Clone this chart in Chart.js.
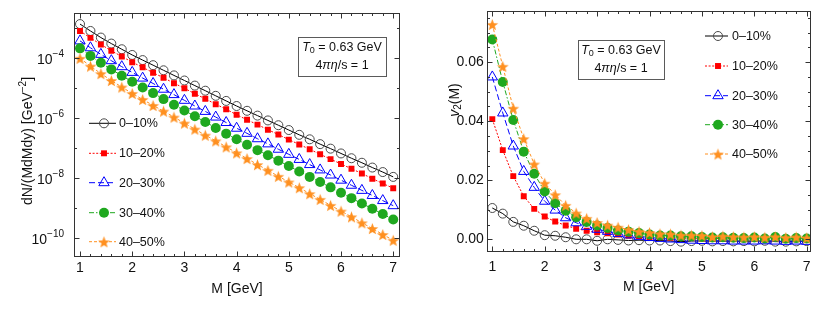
<!DOCTYPE html>
<html><head><meta charset="utf-8">
<script src="https://cdn.jsdelivr.net/npm/chart.js@4.4.0/dist/chart.umd.min.js"></script>
<style>
html,body{margin:0;padding:0;background:#fff;}
#wrap{position:relative;width:830px;height:310px;overflow:hidden;}
.pane{position:absolute;top:0;width:415px;height:310px;}
</style></head><body>
<div id="wrap">
<div class="pane" style="left:0"><canvas id="c1" width="415" height="310"></canvas></div>
<div class="pane" style="left:415px"><canvas id="c2" width="415" height="310"></canvas></div>
</div>
<script>
// ---------------- data ----------------
const massGeV = [1.0,1.2,1.4,1.6,1.8,2.0,2.2,2.4,2.6,2.8,3.0,3.2,3.4,3.6,3.8,4.0,4.2,4.4,4.6,4.8,5.0,5.2,5.4,5.6,5.8,6.0,6.2,6.4,6.6,6.8,7.0];
const centralityLabels = ['0\u201310%','10\u201320%','20\u201330%','30\u201340%','40\u201350%'];

// dN/(M dM dy) [GeV^-2]
const yield0010 = [1.38e-3,8.13e-4,4.90e-4,3.09e-4,2.00e-4,1.29e-4,8.71e-5,5.89e-5,3.98e-5,2.69e-5,1.82e-5,1.23e-5,8.32e-6,5.62e-6,3.80e-6,2.57e-6,1.78e-6,1.23e-6,8.51e-7,5.89e-7,4.07e-7,2.82e-7,2.00e-7,1.38e-7,9.77e-8,6.76e-8,4.68e-8,3.31e-8,2.29e-8,1.62e-8,1.12e-8];
const yield1020 = [8.13e-4,4.79e-4,2.88e-4,1.78e-4,1.15e-4,7.41e-5,5.01e-5,3.31e-5,2.24e-5,1.48e-5,1.00e-5,6.61e-6,4.47e-6,2.95e-6,2.00e-6,1.32e-6,8.91e-7,6.17e-7,4.17e-7,2.88e-7,1.95e-7,1.35e-7,9.33e-8,6.31e-8,4.37e-8,3.02e-8,2.09e-8,1.45e-8,9.77e-9,6.76e-9,4.68e-9];
const yield2030 = [3.80e-4,2.24e-4,1.35e-4,8.32e-5,5.25e-5,3.39e-5,2.19e-5,1.45e-5,9.33e-6,6.17e-6,3.98e-6,2.57e-6,1.70e-6,1.10e-6,7.24e-7,4.68e-7,3.16e-7,2.09e-7,1.41e-7,9.33e-8,6.31e-8,4.27e-8,2.88e-8,1.91e-8,1.29e-8,8.71e-9,5.89e-9,3.98e-9,2.69e-9,1.82e-9,1.23e-9];
const yield3040 = [2.14e-4,1.20e-4,7.08e-5,4.27e-5,2.63e-5,1.66e-5,1.07e-5,6.92e-6,4.37e-6,2.82e-6,1.82e-6,1.17e-6,7.59e-7,4.79e-7,3.09e-7,2.00e-7,1.32e-7,8.71e-8,5.89e-8,3.89e-8,2.57e-8,1.70e-8,1.12e-8,7.59e-9,5.01e-9,3.31e-9,2.19e-9,1.45e-9,9.77e-10,6.46e-10,4.27e-10];
const yield4050 = [1.00e-4,5.50e-5,3.09e-5,1.82e-5,1.10e-5,6.76e-6,4.27e-6,2.69e-6,1.74e-6,1.10e-6,6.92e-7,4.37e-7,2.75e-7,1.78e-7,1.12e-7,7.08e-8,4.57e-8,2.88e-8,1.86e-8,1.17e-8,7.59e-9,4.90e-9,3.09e-9,2.00e-9,1.26e-9,8.13e-10,5.25e-10,3.31e-10,2.14e-10,1.35e-10,8.71e-11];

// v2(M)
const v2_0010 = [0.0106,0.0087,0.0059,0.0046,0.0029,0.0014,0.0012,0.0007,0.0000,0.0000,-0.0005,0.0000,-0.0002,-0.0004,-0.0003,-0.0004,-0.0004,-0.0006,-0.0008,-0.0006,-0.0005,-0.0007,-0.0006,-0.0007,-0.0006,-0.0007,-0.0005,-0.0008,-0.0008,-0.0007,-0.0006];
const v2_1020 = [0.0407,0.0302,0.0214,0.0146,0.0103,0.0077,0.0060,0.0047,0.0036,0.0029,0.0024,0.0020,0.0016,0.0012,0.0010,0.0008,0.0007,0.0005,0.0004,0.0004,0.0003,0.0002,0.0003,0.0002,0.0001,0.0003,0.0001,0.0004,0.0000,0.0002,0.0001];
const v2_2030 = [0.0550,0.0428,0.0316,0.0230,0.0176,0.0129,0.0099,0.0073,0.0056,0.0044,0.0034,0.0027,0.0020,0.0015,0.0010,0.0006,0.0003,0.0001,-0.0001,-0.0003,-0.0004,-0.0005,-0.0005,-0.0006,-0.0006,-0.0006,-0.0005,-0.0006,-0.0007,-0.0006,-0.0007];
const v2_3040 = [0.0677,0.0533,0.0404,0.0297,0.0222,0.0162,0.0122,0.0097,0.0075,0.0059,0.0047,0.0038,0.0030,0.0026,0.0021,0.0016,0.0013,0.0013,0.0010,0.0010,0.0008,0.0006,0.0007,0.0005,0.0004,0.0006,0.0003,0.0008,0.0002,0.0004,0.0003];
const v2_4050 = [0.0728,0.0586,0.0444,0.0341,0.0255,0.0190,0.0151,0.0115,0.0089,0.0071,0.0057,0.0048,0.0041,0.0033,0.0027,0.0023,0.0019,0.0018,0.0014,0.0014,0.0013,0.0009,0.0011,0.0009,0.0008,0.0009,0.0007,0.0009,0.0006,0.0008,0.0005];

const xTickValues = [1,2,3,4,5,6,7];
const yieldTickExponents = [-4,-6,-8,-10];
const v2TickValues = [0,0.02,0.04,0.06];

// ---------------- styles ----------------
const FONT = '"Liberation Sans", Arial, Helvetica, sans-serif';
function starImage(color, size){
  const c=document.createElement('canvas'); c.width=c.height=size;
  const g=c.getContext('2d'); const R=size/2-0.3, r=R*0.42;
  g.beginPath();
  for(let k=0;k<10;k++){const a=-Math.PI/2+k*Math.PI/5; const rr=k%2?r:R; g.lineTo(size/2+rr*Math.cos(a), size/2+0.8+rr*Math.sin(a));}
  g.closePath(); g.fillStyle=color; g.fill(); return c;
}
const ORANGE='#ff9020';
const styles = [
  {line:'#000000', dash:[], ps:'circle', r:4.5, bg:'rgba(255,255,255,0)', bc:'#4a4a4a', bw:1, order:5},
  {line:'#ff0000', dash:[2,1.6], ps:'rect', r:4.2, bg:'#ff0000', bc:'#ff0000', bw:0, order:4},
  {line:'#0000ff', dash:[6,3], ps:'triangle', r:6, bg:'rgba(255,255,255,0)', bc:'#0000ff', bw:1, order:3},
  {line:'#1fa81f', dash:[5,2,1.5,2], ps:'circle', r:5, bg:'#1fa81f', bc:'#1fa81f', bw:0, order:2},
  {line:ORANGE, dash:[3,2], ps:starImage(ORANGE,13), r:6, bg:ORANGE, bc:ORANGE, bw:0, order:1}
];

function makeDatasets(series){
  return series.map((arr,i)=>({
    label: centralityLabels[i],
    data: massGeV.map((m,j)=>({x:m,y:arr[j]})),
    borderColor: styles[i].line, borderWidth:1, borderDash: styles[i].dash,
    pointStyle: styles[i].ps, pointRadius: styles[i].r, pointBackgroundColor: styles[i].bg,
    pointBorderColor: styles[i].bc, pointBorderWidth: styles[i].bw,
    tension:0, fill:false, order: styles[i].order
  }));
}

function rangeTicks(a,b,step){const out=[];for(let v=a;v<=b+1e-9;v+=step)out.push(+v.toFixed(6));return out;}

// frame, inward ticks, legend, info box, y title
const decorPlugin = {
  id:'decor',
  afterDatasetsDraw(chart, args, o){
    const {ctx, chartArea:a, scales:{x,y}} = chart;
    ctx.save();
    const L=Math.round(a.left)+0.5, R=Math.round(a.right)-0.5, T=Math.round(a.top)+0.5, B=Math.round(a.bottom)-0.5;
    ctx.strokeStyle='#333'; ctx.lineWidth=1; ctx.setLineDash([]);
    ctx.strokeRect(L,T,R-L,B-T);
    const seg=(x1,y1,x2,y2)=>{ctx.beginPath();ctx.moveTo(x1,y1);ctx.lineTo(x2,y2);ctx.stroke();};
    const xt=(v,len)=>{const p=Math.round(x.getPixelForValue(v))+0.5; seg(p,B,p,B-len); seg(p,T,p,T+len);};
    const yt=(v,len)=>{const p=Math.round(y.getPixelForValue(v))+0.5; if(p<T||p>B)return; seg(L,p,L+len,p); seg(R,p,R-len,p);};
    o.xMinor.forEach(v=>xt(v,2.5)); o.xMajor.forEach(v=>xt(v,5));
    o.yMinor.forEach(v=>yt(v,2.5)); o.yMajor.forEach(v=>yt(v,5));
    // legend
    const ds = chart.data.datasets;
    ds.forEach((d,i)=>{
      const yy=o.legend.y[i];
      ctx.save();
      ctx.strokeStyle=d.borderColor; ctx.lineWidth=1; ctx.setLineDash(d.borderDash);
      seg(o.legend.x0, yy, o.legend.x1, yy);
      ctx.setLineDash([]);
      ctx.fillStyle=d.pointBackgroundColor; ctx.strokeStyle=d.pointBorderColor; ctx.lineWidth=d.pointBorderWidth||0;
      Chart.helpers.drawPoint(ctx,{pointStyle:d.pointStyle,radius:d.pointRadius,borderWidth:d.pointBorderWidth,rotation:0},o.legend.xm,yy);
      ctx.restore();
      ctx.fillStyle='#111'; ctx.font='12.5px '+FONT; ctx.textBaseline='middle'; ctx.textAlign='left';
      ctx.fillText(d.label, o.legend.xt, yy+0.5);
    });
    // info box
    const b=o.box;
    ctx.fillStyle='#fff'; ctx.fillRect(b.x,b.y,b.w,b.h);
    ctx.strokeStyle='#5a5a5a'; ctx.lineWidth=1; ctx.strokeRect(b.x+0.5,b.y+0.5,b.w,b.h);
    const cx=b.x+b.w/2;
    const runs1=[['T','italic 12.5px '+FONT,0],['0','9px '+FONT,3],[' = 0.63 GeV','12.5px '+FONT,0]];
    const runs2=[['4','12.5px '+FONT,0],['\u03c0\u03b7','italic 12.5px '+FONT,0],['/s = 1','12.5px '+FONT,0]];
    const drawRuns=(runs,yc)=>{
      let w=0; runs.forEach(r=>{ctx.font=r[1]; w+=ctx.measureText(r[0]).width;});
      let xx=cx-w/2; ctx.textAlign='left'; ctx.textBaseline='middle'; ctx.fillStyle='#111';
      runs.forEach(r=>{ctx.font=r[1]; ctx.fillText(r[0],xx,yc+r[2]); xx+=ctx.measureText(r[0]).width;});
    };
    drawRuns(runs1,b.y+b.h*0.28); drawRuns(runs2,b.y+b.h*0.73);
    ctx.restore();
  },
  afterDraw(chart, args, o){
    const {ctx, scales:{y}} = chart;
    ctx.save(); ctx.fillStyle='#111';
    // rotated y title
    const t=o.ytitle;
    ctx.translate(t.x,t.y); ctx.rotate(-Math.PI/2);
    let w=0; t.runs.forEach(r=>{ctx.font=r[1]; w+=ctx.measureText(r[0]).width;});
    let xx=-w/2; ctx.textBaseline='middle'; ctx.textAlign='left';
    t.runs.forEach(r=>{ctx.font=r[1]; ctx.fillText(r[0],xx,r[2]); xx+=ctx.measureText(r[0]).width;});
    ctx.restore();
    // log tick labels with superscripts
    if(o.logLabels){
      ctx.save(); ctx.fillStyle='#111'; ctx.textBaseline='middle'; ctx.textAlign='left';
      o.logLabels.forEach(e=>{
        const p=y.getPixelForValue(Math.pow(10,e));
        const sup='\u2212'+Math.abs(e);
        ctx.font='10px '+FONT; const ws=ctx.measureText(sup).width;
        ctx.font='14px '+FONT; const wb=ctx.measureText('10').width;
        const xr=o.logLabelRight;
        ctx.fillText('10', xr-ws-wb, p+1.5);
        ctx.font='10px '+FONT; ctx.fillText(sup, xr-ws, p-4);
      });
      ctx.restore();
    }
  }
};

function xScale(min,max,h,pad,tpad){
  return {type:'linear',min,max,
    afterBuildTicks:s=>{s.ticks=xTickValues.map(v=>({value:v}));},
    afterFit:s=>{s.height=h;},
    grid:{display:false,drawTicks:false}, border:{display:false},
    ticks:{font:{family:FONT,size:14},color:'#111',padding:pad,maxRotation:0,autoSkip:false},
    title:{display:true,text:'M [GeV]',font:{family:FONT,size:14},color:'#111',padding:{top:0,bottom:tpad}}
  };
}

// ---------------- left chart ----------------
const decadeTicks=[]; for(let e=-3;e>=-10;e--) decadeTicks.push(Math.pow(10,e));
new Chart(document.getElementById('c1'),{
  type:'line',
  data:{datasets:makeDatasets([yield0010,yield1020,yield2030,yield3040,yield4050])},
  options:{
    responsive:false, animation:false, devicePixelRatio:1,
    layout:{padding:{top:12.7,right:15,bottom:0,left:0}},
    plugins:{legend:{display:false},tooltip:{enabled:false},
      decor:{
        xMajor:xTickValues, xMinor:rangeTicks(1,7,0.2),
        yMajor:yieldTickExponents.map(e=>Math.pow(10,e)), yMinor:decadeTicks,
        legend:{x0:89,x1:116,xm:104,xt:119,y:[123.3,153.3,182.7,212.7,241.7]},
        box:{x:298,y:37,w:88,h:39},
        ytitle:{x:28,y:141,runs:[['dN/(MdMdy) [GeV','14px '+FONT,0],['\u22122','10px '+FONT,-5],[']','14px '+FONT,0]]},
        logLabels:yieldTickExponents, logLabelRight:64
      }},
    scales:{
      x:xScale(0.885,7.13,53,3,12.5),
      y:{type:'logarithmic',min:2.4e-11,max:3.3e-3,
        afterBuildTicks:s=>{s.ticks=yieldTickExponents.map(e=>({value:Math.pow(10,e)}));},
        afterFit:s=>{s.width=74;},
        grid:{display:false,drawTicks:false}, border:{display:false},
        ticks:{display:false}}
    }
  },
  plugins:[decorPlugin]
});

// ---------------- right chart ----------------
new Chart(document.getElementById('c2'),{
  type:'line',
  data:{datasets:makeDatasets([v2_0010,v2_1020,v2_2030,v2_3040,v2_4050])},
  options:{
    responsive:false, animation:false, devicePixelRatio:1,
    layout:{padding:{top:9.5,right:19.3,bottom:0,left:0}},
    plugins:{legend:{display:false},tooltip:{enabled:false},
      decor:{
        xMajor:xTickValues, xMinor:rangeTicks(1,7,0.2),
        yMajor:v2TickValues, yMinor:rangeTicks(-0.005,0.075,0.005),
        legend:{x0:290,x1:313,xm:303,xt:317,y:[36,66,95.7,124.7,154]},
        box:{x:163,y:40,w:86,h:39},
        ytitle:{x:40,y:100,runs:[['v','italic 14px '+FONT,0],['2','10px '+FONT,3],['(M)','14px '+FONT,0]]}
      }},
    scales:{
      x:xScale(0.893,7.076,58,7,14),
      y:{type:'linear',min:-0.0043,max:0.0772,
        afterBuildTicks:s=>{s.ticks=v2TickValues.map(v=>({value:v}));},
        afterFit:s=>{s.width=71.7;},
        grid:{display:false,drawTicks:false}, border:{display:false},
        ticks:{font:{family:FONT,size:14},color:'#111',padding:3,callback:v=>v.toFixed(2)}}
    }
  },
  plugins:[decorPlugin]
});
</script>
</body></html>
